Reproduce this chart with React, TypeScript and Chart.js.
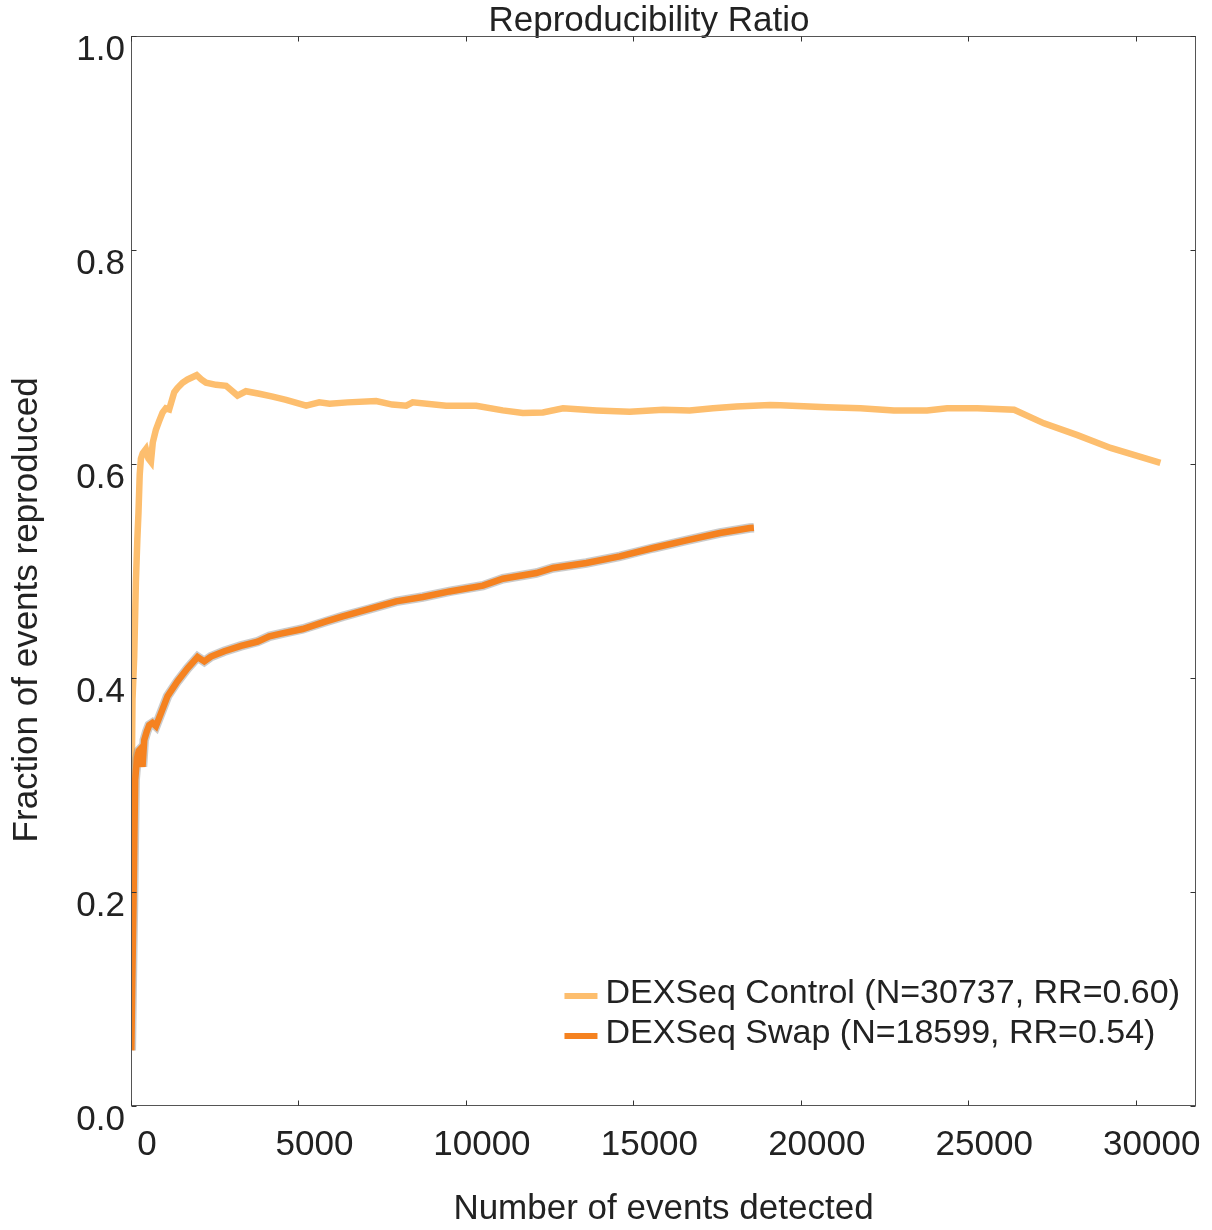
import React, { useEffect, useRef } from 'react';
import { Chart, registerables } from 'chart.js';

Chart.register(...registerables);

// ---- data ----
const controlX = [20, 45, 96, 146, 190, 224, 260, 296, 350, 445, 520, 595, 650, 744, 840, 942, 1040, 1140, 1290, 1385, 1540, 1690, 1960, 2100, 2240, 2540, 2840, 3180, 3430, 3830, 4230, 4630, 5230, 5620, 5930, 6470, 7320, 7800, 8220, 8410, 9410, 10310, 11100, 11700, 12300, 12900, 13900, 14890, 15890, 16680, 17380, 18080, 19080, 19390, 20780, 21780, 22780, 23770, 24370, 25270, 26370, 27260, 28260, 29250, 30737];
const controlY = [0.30, 0.38, 0.42, 0.49, 0.53, 0.555, 0.59, 0.605, 0.61, 0.614, 0.605, 0.602, 0.62, 0.632, 0.64, 0.648, 0.652, 0.651, 0.667, 0.671, 0.676, 0.679, 0.683, 0.679, 0.676, 0.674, 0.673, 0.664, 0.668, 0.6657, 0.663, 0.66, 0.6545, 0.6576, 0.6564, 0.6576, 0.6589, 0.6555, 0.6545, 0.6576, 0.6545, 0.6545, 0.6501, 0.6477, 0.6482, 0.652, 0.6501, 0.6489, 0.6507, 0.6501, 0.652, 0.6538, 0.6551, 0.655, 0.653, 0.652, 0.65, 0.65, 0.652, 0.652, 0.6507, 0.638, 0.627, 0.615, 0.601];

const swapX = [10, 40, 75, 100, 125, 180, 230, 290, 344, 395, 470, 544, 640, 744, 893, 1091, 1390, 1689, 1988, 2188, 2388, 2786, 3285, 3781, 4130, 4480, 5126, 5825, 6322, 7120, 7918, 8713, 9511, 10507, 11104, 12103, 12601, 13597, 14593, 15588, 16586, 17582, 18478, 18599];
const swapY = [0.052, 0.12, 0.19, 0.25, 0.305, 0.325, 0.332, 0.334, 0.317, 0.342, 0.35, 0.356, 0.358, 0.355, 0.367, 0.383, 0.397, 0.409, 0.4196, 0.4155, 0.42, 0.425, 0.43, 0.434, 0.4389, 0.4414, 0.4458, 0.4529, 0.4576, 0.4645, 0.4716, 0.4757, 0.4809, 0.4863, 0.4928, 0.4981, 0.5028, 0.5075, 0.5136, 0.5215, 0.5286, 0.5355, 0.5402, 0.5405];

const xTicks = [0, 5000, 10000, 15000, 20000, 25000, 30000];
const yTicks = [0, 0.2, 0.4, 0.6, 0.8, 1.0];
const xRange = [0, 31800];
const yRange = [0, 1];

const seriesLabels = ['DEXSeq Control (N=30737, RR=0.60)', 'DEXSeq Swap (N=18599, RR=0.54)'];
const seriesColors = ['#FDBE6E', '#F58220'];
const bandColor = 'rgba(140,140,140,0.45)';

const titleText = 'Reproducibility Ratio';
const xTitle = 'Number of events detected';
const yTitle = 'Fraction of events reproduced';

const FONT = '"Liberation Sans", Arial, Helvetica, sans-serif';
const TEXT = '#222222';

const framePlugin = {
  id: 'frame',
  afterDraw(chart: any) {
    const { ctx, chartArea: a, scales } = chart;
    ctx.save();
    ctx.strokeStyle = '#555555';
    ctx.lineWidth = 1;
    const L = Math.round(a.left) + 0.5;
    const R = Math.round(a.right) - 0.5;
    const T = Math.round(a.top) + 0.5;
    const B = Math.round(a.bottom) - 0.5;
    ctx.strokeRect(L, T, R - L, B - T);
    ctx.strokeStyle = '#333333';
    ctx.beginPath();
    for (const v of xTicks) {
      const px = Math.round(scales.x.getPixelForValue(v)) + 0.5;
      ctx.moveTo(px, B); ctx.lineTo(px, B - 5);
      ctx.moveTo(px, T); ctx.lineTo(px, T + 5);
    }
    for (const v of yTicks) {
      const py = Math.round(scales.y.getPixelForValue(v)) + 0.5;
      ctx.moveTo(L, py); ctx.lineTo(L + 5, py);
      ctx.moveTo(R, py); ctx.lineTo(R - 5, py);
    }
    ctx.stroke();

    // legend inside the plot, bottom right
    ctx.font = `34px ${FONT}`;
    ctx.textBaseline = 'middle';
    ctx.textAlign = 'left';
    const widths = seriesLabels.map((s) => ctx.measureText(s).width);
    const w = Math.max(...widths);
    const textX = a.right - 16 - w;
    const segR = textX - 8;
    const segL = segR - 33;
    const rowGap = 40;
    const lastY = a.bottom - 72;
    seriesLabels.forEach((label, i) => {
      const y = lastY - (seriesLabels.length - 1 - i) * rowGap;
      ctx.strokeStyle = seriesColors[i];
      ctx.lineWidth = 6;
      ctx.beginPath();
      ctx.moveTo(segL, y + 2);
      ctx.lineTo(segR, y + 2);
      ctx.stroke();
      ctx.fillStyle = TEXT;
      ctx.fillText(label, textX, y);
    });
    ctx.restore();
  },
};

export default function App() {
  const ref = useRef<HTMLCanvasElement | null>(null);

  useEffect(() => {
    document.body.style.margin = '0';
    const canvas = ref.current;
    if (!canvas) return;
    const toPts = (xs: number[], ys: number[]) => xs.map((x, i) => ({ x, y: ys[i] }));

    const chart = new Chart(canvas, {
      type: 'line',
      data: {
        datasets: [
          {
            label: seriesLabels[0],
            data: toPts(controlX, controlY),
            borderColor: seriesColors[0],
            borderWidth: 6.5,
            pointRadius: 0,
            tension: 0,
            order: 2,
          },
          {
            label: 'band',
            data: toPts(swapX, swapY),
            borderColor: bandColor,
            borderWidth: 9.5,
            pointRadius: 0,
            tension: 0,
            order: 1,
          },
          {
            label: seriesLabels[1],
            data: toPts(swapX, swapY),
            borderColor: seriesColors[1],
            borderWidth: 6.5,
            pointRadius: 0,
            tension: 0,
            order: 0,
          },
        ],
      },
      options: {
        responsive: false,
        animation: false,
        devicePixelRatio: 1,
        layout: { padding: { left: 0, right: 16, top: 0, bottom: 0 } },
        plugins: {
          legend: { display: false },
          tooltip: { enabled: false },
          title: {
            display: true,
            text: titleText + '   ',
            fullSize: false,
            color: TEXT,
            font: { family: FONT, size: 35, weight: 'normal', lineHeight: 1 },
            padding: { top: 4, bottom: -3 },
          },
        },
        scales: {
          x: {
            type: 'linear',
            min: xRange[0],
            max: xRange[1],
            grid: { display: false, drawTicks: false },
            border: { display: false },
            afterBuildTicks: (scale: any) => {
              scale.ticks = xTicks.map((v) => ({ value: v }));
            },
            afterFit: (scale: any) => {
              scale.height = 124;
            },
            ticks: {
              color: TEXT,
              font: { family: FONT, size: 35, lineHeight: 1 },
              padding: 22,
              labelOffset: 16,
              maxRotation: 0,
              autoSkip: false,
              callback: (v: any) => String(v),
            },
            title: {
              display: true,
              text: xTitle,
              color: TEXT,
              font: { family: FONT, size: 35, lineHeight: 1 },
              padding: { top: 0, bottom: 3 },
            },
          },
          y: {
            type: 'linear',
            min: yRange[0],
            max: yRange[1],
            grid: { display: false, drawTicks: false },
            border: { display: false },
            afterBuildTicks: (scale: any) => {
              scale.ticks = yTicks.map((v) => ({ value: v }));
            },
            afterFit: (scale: any) => {
              scale.width = 131;
            },
            ticks: {
              color: TEXT,
              font: { family: FONT, size: 35, lineHeight: 1 },
              padding: 6,
              labelOffset: 14,
              autoSkip: false,
              callback: (v: any) => Number(v).toFixed(1),
            },
            title: {
              display: true,
              text: yTitle + '        ',
              color: TEXT,
              font: { family: FONT, size: 35, lineHeight: 1 },
              padding: { top: 10, bottom: 0 },
            },
          },
        },
      },
      plugins: [framePlugin],
    } as any);

    return () => chart.destroy();
  }, []);

  return (
    <div style={{ width: 1212, height: 1230, background: '#ffffff' }}>
      <canvas ref={ref} width={1212} height={1230} style={{ display: 'block' }} />
    </div>
  );
}
